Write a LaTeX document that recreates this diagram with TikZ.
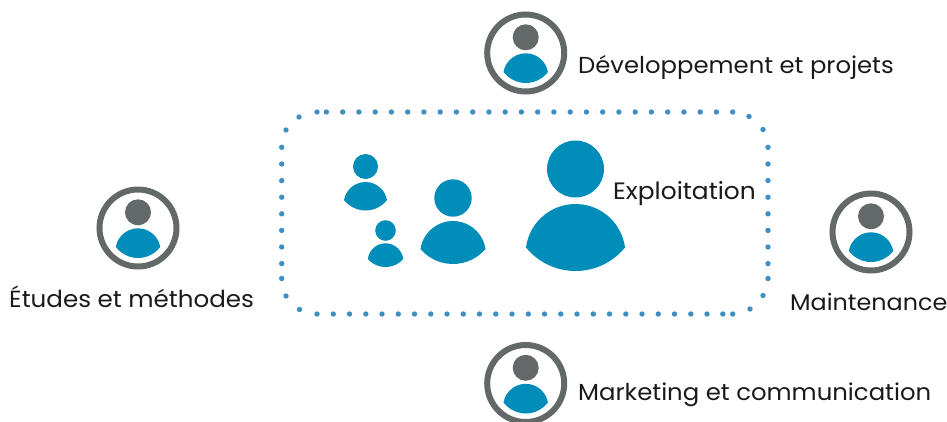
\documentclass[tikz,border=0pt]{standalone}
\usepackage{fontspec}
\setmainfont{Poppins}[FakeStretch=1.05]
\definecolor{iconblue}{HTML}{008DB9}
\definecolor{ringgray}{HTML}{636968}
\definecolor{dotblue}{HTML}{3D8FC2}
\definecolor{labelink}{HTML}{1A1A1A}
\newcommand{\lblsize}[1]{\fontsize{#1}{27}\selectfont}
\tikzset{
  label text/.style={text=labelink,anchor=base west,inner sep=0pt},
  bead/.style={fill=dotblue,draw=none},
  ring/.style={draw=ringgray,line width=6pt,fill=none}
}
% #1 cx, #2 head cy, #3 head r, #4 half width, #5 wing y, #6 top y, #7 bottom y, #8 head colour
\newcommand{\personicon}[8]{%
  \fill[#8] (#1,#2) circle (#3);
  \pgfmathsetmacro{\hA}{#5-(#6)}%
  \pgfmathsetmacro{\hB}{#7-(#5)}%
  \pgfmathsetmacro{\rA}{(#4*#4+\hA*\hA)/(2*\hA)}%
  \pgfmathsetmacro{\rB}{(#4*#4+\hB*\hB)/(2*\hB)}%
  \pgfmathsetmacro{\aA}{atan2(#4,\rA-\hA)}%
  \pgfmathsetmacro{\aB}{atan2(#4,\rB-\hB)}%
  \fill[iconblue,y=1pt] ({#1-#4},{-(#5)}) arc[start angle={90+\aA},end angle={90-\aA},radius=\rA]
     arc[start angle={-90+\aB},end angle={-90-\aB},radius=\rB] -- cycle;
}
\newcommand{\ringperson}[2]{%
  \draw[ring] (#1,#2) circle (38.5);
  \personicon{#1}{#2-15.7}{13}{22.2}{#2+19}{#2+0.3}{#2+30}{ringgray}
}
\begin{document}
\begin{tikzpicture}[x=1pt,y=-1pt]
\useasboundingbox (0,0) rectangle (947,421);
\clip (0,0) rectangle (947,421);
% dotted frame
\foreach \x in {317,326.4,342.7,358.9,375.2,391.4,407.7,423.9,440.2,456.4,472.7,488.9,505.2,521.4,537.7,553.9,570.2,586.4,602.7,618.9,635.2,651.4,667.7,683.9,700.2,716.4,732.7}
  \fill[bead] (\x,112) circle (2.7);
\foreach \x in {317,333.3,349.5,365.8,382,398.3,414.5,430.8,447,463.3,479.5,495.8,512,528.3,544.5,560.8,577,593.3,609.5,625.8,642,658.3,674.5,690.8,707,722.8,732.7}
  \fill[bead] (\x,314) circle (2.7);
\foreach \y in {147.3,164,180.6,197.2,213.8,230.4,247,263.6,278.5}{
  \fill[bead] (281.7,\y) circle (2.7);
  \fill[bead] (768,\y) circle (2.7);
}
\foreach \x/\y in {299/117,286/130,286/296,299.5/309.5,749/116.5,763/129.5,763/295.5,750/309}
  \fill[bead] (\x,\y) circle (2.7);
% team figures
\personicon{575.5}{169}{28.5}{49.5}{247.5}{204}{271}{iconblue}
\personicon{453}{198}{18.7}{32.5}{249}{221}{264}{iconblue}
\personicon{365.5}{166.5}{12.5}{21.5}{200}{182}{210.5}{iconblue}
\personicon{385.5}{230.5}{10.3}{17.7}{259}{243.3}{267}{iconblue}
% ringed figures
\ringperson{525.7}{53}
\ringperson{138}{228}
\ringperson{871}{232}
\ringperson{525.7}{383.5}
% labels
\node[label text,font=\lblsize{23.15}] (dev) at (578,73) {Développement et projets};
\node[label text,font=\lblsize{23.7}] (exp) at (613,199) {Exploitation};
\node[label text,font=\lblsize{23.4}] (etu) at (9,307) {Études et méthodes};
\node[label text,font=\lblsize{22.7}] (mai) at (790,310) {Maintenance};
\node[label text,font=\lblsize{23.2}] (mar) at (578,400) {Marketing et communication};
\end{tikzpicture}
\end{document}
